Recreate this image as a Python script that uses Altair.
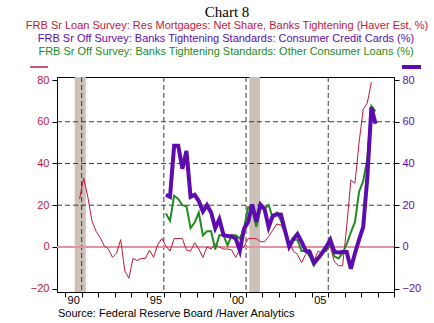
import altair as alt
import pandas as pd

# ---------------- data (quarterly, net % of banks tightening) ----------------
RED_START = (1990, 4)
red_vals = [23,
            33, 24, 12.5, 7.5,
            4.5, 0.5, -1, -5,
            -3, 3.5, -11.5, -15,
            -5.5, -6.5, -5.5, -5.5,
            -1.5, -5, 1, 4,
            0.5, -2, 4, 4,
            4, -1.5, -2, 2,
            -1, -5, 0, -1,
            1.5, 0, -1, -1,
            -1.5, -5, -1, 0,
            4, 4, 4, 2.5,
            2.5, 5, 8, 11,
            10.5, 6.5, 2.5, -2,
            -3.5, -7.5, -3.5, -1,
            -7, -2, -3, -1,
            0, -7, -9, -9,
            10, 32, 30.5, 50,
            66, 69, 79]

CC_START = (1996, 1)
cc_vals = [25, 24, 48.5, 48.5,
           37.5, 46, 24, 25,
           22, 17, 20, 16.5,
           9, 13.3, 5.8, 5.2,
           5, 4, -1.8, 8.6,
           12, 20.3, 12, 20.3,
           18.2, 9.5, 14.9, 15.7,
           15.5, 7.7, 0.2, 3.8,
           6.2, 2.5, -1.8, -2.5,
           -7.5, -5.5, -3, 0,
           3.4, -2.4, -2.7, -2.4,
           -2.4, -10.5, -3, 3.5,
           9.5, 33, 67, 59]

OCL_START = (1996, 1)
ocl_vals = [16, 12.5, 24.5, 23,
            20, 19.5, 9, 11.7,
            16.5, 5.5, 7.5, 7.5,
            -1.2, 5.6, 5.6, 0.8,
            5.6, 5.6, 4, 9,
            19, 19, 9.5, 18.5,
            18.5, 20, 14, 16.5,
            12.5, 7, 1.5, 3.5,
            3.5, -2, -2, -4.5,
            -9, -6, -2, -2,
            2, -4.5, -5.5, -3,
            1.5, 7, 12, 26.5,
            31.5, 42, 67.5, 65]

recession_start = [1990.58, 2001.2]
recession_end = [1991.25, 2001.85]

vgrid_years = [1991, 1996, 2001, 2006]
hgrid_vals = [20, 40, 60]
tick_years = list(range(1990, 2011))
label_years = [1990, 1995, 2000, 2005]
label_texts = ['90', '95', '00', '05']
y_ticks = [-20, 0, 20, 40, 60, 80]

TITLE = "Chart 8"
SUB1 = "FRB Sr Loan Survey: Res Mortgages: Net Share, Banks Tightening (Haver Est, %)"
SUB2 = "FRB Sr Off Survey: Banks Tightening Standards: Consumer Credit Cards (%)"
SUB3 = "FRB Sr Off Survey: Banks Tightening Standards: Other Consumer Loans (%)"
SOURCE = "Source:  Federal Reserve Board /Haver Analytics"

RED = "#c0183a"
PURPLE = "#5d0cb0"
GREEN = "#218a21"
ZERO = "#e3939c"
BAND = "#ccc0b9"
FONT = "Liberation Sans"


def qseries(start, vals):
    y0, q0 = start
    rows = []
    for i, v in enumerate(vals):
        k = (q0 - 1) + i
        rows.append({"t": y0 + k // 4 + (k % 4) * 0.25 + 0.125, "v": v})
    return pd.DataFrame(rows)


red_df = qseries(RED_START, red_vals)
cc_df = qseries(CC_START, cc_vals)
ocl_df = qseries(OCL_START, ocl_vals)
band_df = pd.DataFrame({"s": recession_start, "e": recession_end})
vgrid_df = pd.DataFrame({"t": vgrid_years})
hgrid_df = pd.DataFrame({"v": hgrid_vals})
zero_df = pd.DataFrame({"v": [0]})

W, H = 337, 215
XS = alt.Scale(domain=[1989.5, 2010.0], nice=False, zero=False)
YS = alt.Scale(domain=[-21.6, 81.45], nice=False, zero=False)

lab_expr = "".join(f"datum.value=={y}?'{t}':" for y, t in zip(label_years, label_texts)) + "''"
XAXIS = alt.Axis(values=tick_years, labelExpr=lab_expr, labelOffset=8, labelFlush=False,
                 labelOverlap=False, labelBound=False, tickSize=5, labelPadding=-3,
                 grid=False, title=None, labelFont=FONT, labelFontSize=11, labelColor="black",
                 domainColor="black", tickColor="black")


def X(field):
    return alt.X(field, type="quantitative", scale=XS, axis=XAXIS)


def Ynone(field):
    return alt.Y(field, type="quantitative", scale=YS, axis=None)


bands = alt.Chart(band_df).mark_rect(color=BAND).encode(
    x=X("s"), x2="e", y=alt.value(0), y2=alt.value(H))

vgrid = alt.Chart(vgrid_df).mark_rule(color="#3a3a3a", strokeDash=[5, 3], strokeWidth=1).encode(
    x=X("t"), y=alt.value(0), y2=alt.value(H))

hgrid = alt.Chart(hgrid_df).mark_rule(color="#3a3a3a", strokeDash=[5, 3], strokeWidth=1).encode(
    y=Ynone("v"), x=alt.value(0), x2=alt.value(W))

zero = alt.Chart(zero_df).mark_rule(color=ZERO, strokeWidth=2).encode(
    y=Ynone("v"), x=alt.value(0), x2=alt.value(W))

red_line = alt.Chart(red_df).mark_line(color=RED, strokeWidth=1).encode(
    x=X("t"),
    y=alt.Y("v:Q", scale=YS, axis=alt.Axis(orient="left", values=y_ticks, title=None, grid=False,
                                           labelColor=RED, labelFont=FONT, labelFontSize=11,
                                           tickSize=5, labelPadding=3, domainColor="black",
                                           tickColor="black", labelFlush=False)))

green_line = alt.Chart(ocl_df).mark_line(color=GREEN, strokeWidth=2).encode(
    x=X("t"), y=Ynone("v"))

purple_line = alt.Chart(cc_df).mark_line(color=PURPLE, strokeWidth=4).encode(
    x=X("t"),
    y=alt.Y("v:Q", scale=YS, axis=alt.Axis(orient="right", values=y_ticks, title=None, grid=False,
                                           labelColor=PURPLE, labelFont=FONT, labelFontSize=11,
                                           tickSize=5, labelPadding=3, domainColor="black",
                                           tickColor="black", labelFlush=False)))

# legend markers
red_key = alt.Chart(zero_df).mark_rule(color=RED, strokeWidth=1.5).encode(
    x=alt.value(-27), x2=alt.value(-9), y=alt.value(-10))
purple_key = alt.Chart(zero_df).mark_rule(color=PURPLE, strokeWidth=4).encode(
    x=alt.value(345), x2=alt.value(364), y=alt.value(-10))

# titles and source
def txt(s, x, y, color, size, font=FONT, align="center"):
    return alt.Chart(zero_df).mark_text(text=s, color=color, fontSize=size, font=font,
                                        align=align, baseline="alphabetic").encode(
        x=alt.value(x), y=alt.value(y))


title = txt(TITLE, 170, -60.5, "black", 15, font="Liberation Serif")
s1 = txt(SUB1, 170, -48.5, RED, 11)
s2 = txt(SUB2, 169, -35.5, PURPLE, 11)
s3 = txt(SUB3, 169, -22.5, GREEN, 11)
src = txt(SOURCE, 1, 239.5, "black", 11, align="left")

chart = alt.layer(bands, vgrid, hgrid, zero, red_line, green_line, purple_line,
                  red_key, purple_key, title, s1, s2, s3, src).resolve_scale(
    y="independent").properties(
    width=W, height=H,
    padding={"left": 57, "top": 77, "right": 40, "bottom": 31},
    autosize=alt.AutoSizeParams(type="none"),
    background="white",
).configure_view(stroke="black", strokeWidth=1)

chart.save("out.html", embed_options={"renderer": "svg", "actions": False})
